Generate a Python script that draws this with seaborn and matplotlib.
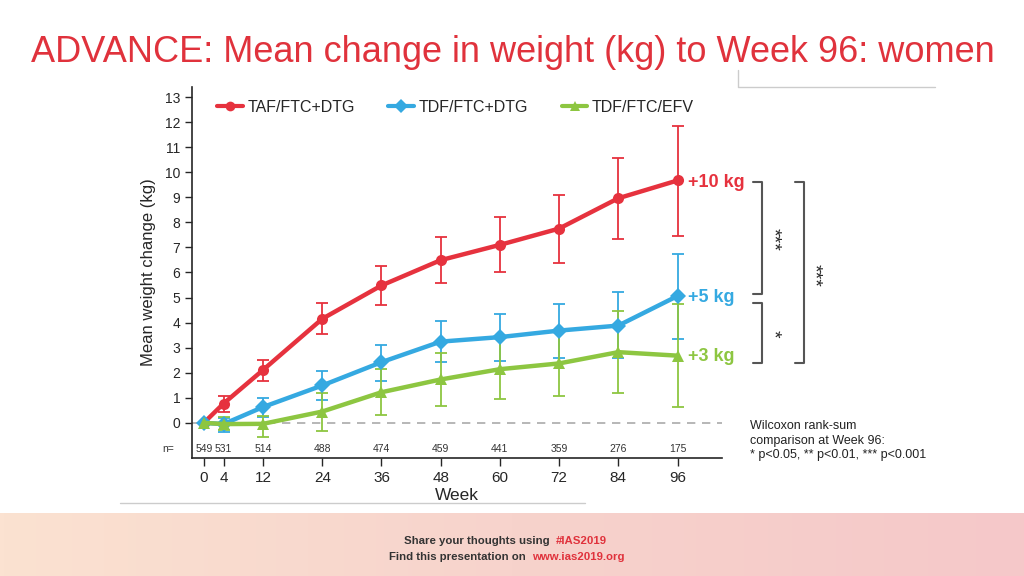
import numpy as np
import pandas as pd
import matplotlib
matplotlib.use('Agg')
import matplotlib.pyplot as plt
import seaborn as sns
from matplotlib.lines import Line2D
from matplotlib.colors import LinearSegmentedColormap

# データ
weeks = [0, 4, 12, 24, 36, 48, 60, 72, 84, 96]
n_at_risk = [549, 531, 514, 488, 474, 459, 441, 359, 276, 175]
regimens = ['TAF/FTC+DTG', 'TDF/FTC+DTG', 'TDF/FTC/EFV']

taf_mean = [0, 0.77, 2.11, 4.15, 5.48, 6.49, 7.10, 7.75, 8.96, 9.67]
taf_low = [0, 0.44, 1.67, 3.53, 4.70, 5.56, 6.02, 6.39, 7.34, 7.47]
taf_high = [0, 1.08, 2.51, 4.78, 6.26, 7.40, 8.21, 9.09, 10.58, 11.86]

tdf_mean = [0, -0.05, 0.63, 1.49, 2.42, 3.24, 3.42, 3.68, 3.88, 5.06]
tdf_low = [0, -0.35, 0.23, 0.92, 1.67, 2.42, 2.48, 2.59, 2.60, 3.36]
tdf_high = [0, 0.21, 0.98, 2.07, 3.10, 4.05, 4.33, 4.73, 5.20, 6.74]

efv_mean = [0, -0.05, -0.04, 0.45, 1.22, 1.73, 2.14, 2.37, 2.82, 2.68]
efv_low = [0, -0.30, -0.58, -0.32, 0.33, 0.68, 0.96, 1.08, 1.21, 0.63]
efv_high = [0, 0.25, 0.27, 1.21, 2.13, 2.78, 3.40, 3.62, 4.47, 4.75]

end_labels = ['+10 kg', '+5 kg', '+3 kg']

colors = ['#E6323E', '#35A9E1', '#8DC641']
markers = ['o', 'D', '^']

means = [taf_mean, tdf_mean, efv_mean]
lows = [taf_low, tdf_low, efv_low]
highs = [taf_high, tdf_high, efv_high]

df = pd.DataFrame({
    'week': weeks * 3,
    'change': taf_mean + tdf_mean + efv_mean,
    'regimen': [r for r in regimens for _ in weeks],
})

sns.set_style('ticks')
plt.rcParams['font.family'] = ['Liberation Sans', 'DejaVu Sans']

fig = plt.figure(figsize=(10.24, 5.76), dpi=100)

# 下部のフッター帯
fax = fig.add_axes([0, 0, 1, 63 / 576])
cmap = LinearSegmentedColormap.from_list('band', ['#FBE2D1', '#F7D3CC', '#F5C8C9'])
fax.imshow(np.linspace(0, 1, 256)[None, :], aspect='auto', cmap=cmap, extent=[0, 1, 0, 1])
fax.set_axis_off()

ax = fig.add_axes([0.1875, 0.205, 0.5175, 0.644])

# エラーバー
for m, lo, hi, c in zip(means, lows, highs, colors):
    m = np.array(m)
    err = [m - np.array(lo), np.array(hi) - m]
    ax.errorbar(weeks, m, yerr=err, fmt='none', ecolor=c, elinewidth=1.3,
                capsize=4, capthick=1.3, zorder=2)

sns.lineplot(data=df, x='week', y='change', hue='regimen', style='regimen',
             palette=dict(zip(regimens, colors)), markers=dict(zip(regimens, markers)),
             dashes=False, linewidth=3.2, markersize=8, markeredgewidth=0,
             errorbar=None, legend=False, ax=ax, zorder=3)

ax.axhline(0, color='#AAAAAA', ls=(0, (5, 4)), lw=1.2, zorder=1)

ax.set_xlim(-2.4, 105)
ax.set_ylim(-1.4, 13.4)
ax.set_xticks(weeks)
ax.set_yticks(range(0, 14))
ax.tick_params(axis='y', labelsize=10, length=5, width=1)
ax.tick_params(axis='x', labelsize=11, length=6, width=1)
ax.set_xlabel('Week', fontsize=12.5, labelpad=2)
ax.set_ylabel('Mean weight change (kg)', fontsize=12, labelpad=6)
sns.despine(ax=ax)
ax.spines['left'].set_linewidth(1.2)
ax.spines['bottom'].set_linewidth(1.2)

# 人数
for w, n in zip(weeks, n_at_risk):
    ax.text(w, -1.05, str(n), ha='center', va='center', fontsize=7.5, color='#333333')
ax.text(-0.045, -1.05, 'n=', transform=ax.get_yaxis_transform(), ha='center',
        va='center', fontsize=7.5, color='#333333')

# 凡例
handles = [Line2D([], [], color=c, marker=mk, lw=3, markersize=7, markeredgewidth=0)
           for c, mk in zip(colors, markers)]
ax.legend(handles, regimens, loc='center left', bbox_to_anchor=(0.02, 0.946), ncol=3,
          frameon=False, fontsize=11.5, handlelength=1.6, handletextpad=0.3,
          columnspacing=2.1)

# 右端のラベル
for lab, yv, c in zip(end_labels, [9.6, 5.0, 2.63], colors):
    ax.text(98.2, yv, lab, color=c, fontsize=13, fontweight='bold', ha='left',
            va='center', clip_on=False)

# 有意差の括弧
br = '#555555'
ax.plot([111.2, 113.2, 113.2, 111.2], [9.6, 9.6, 5.14, 5.14], color=br, lw=1.5, clip_on=False)
ax.plot([111.2, 113.2, 113.2, 111.2], [4.78, 4.78, 2.4, 2.4], color=br, lw=1.5, clip_on=False)
ax.plot([119.8, 121.7, 121.7, 119.8], [9.6, 9.6, 2.4, 2.4], color=br, lw=1.5, clip_on=False)
ax.text(115.2, 7.3, '***', rotation=270, ha='center', va='center', fontsize=14, clip_on=False)
ax.text(115.2, 3.55, '*', rotation=270, ha='center', va='center', fontsize=14, clip_on=False)
ax.text(123.6, 5.9, '***', rotation=270, ha='center', va='center', fontsize=14, clip_on=False)

fig.text(750 / 1024, 1 - 420 / 576,
         'Wilcoxon rank-sum\ncomparison at Week 96:\n* p<0.05, ** p<0.01, *** p<0.001',
         ha='left', va='top', fontsize=9, color='#222222', linespacing=1.3)

# タイトル
fig.text(513 / 1024, 1 - 62 / 576, 'ADVANCE: Mean change in weight (kg) to Week 96: women',
         ha='center', va='baseline', fontsize=26, color='#E0323C')

# 装飾線
fig.add_artist(Line2D([738 / 1024, 738 / 1024, 935 / 1024],
                      [1 - 70 / 576, 1 - 87 / 576, 1 - 87 / 576], color='#CCCCCC', lw=1))
fig.add_artist(Line2D([120 / 1024, 585 / 1024], [1 - 503 / 576] * 2, color='#CCCCCC', lw=1))

# フッターの文字
dark = '#333333'
red = '#E0323C'
fig.text(553 / 1024, 1 - 541 / 576, 'Share your thoughts using ', ha='right', va='center',
         fontsize=8.2, fontweight='bold', color=dark)
fig.text(556 / 1024, 1 - 541 / 576, '#IAS2019', ha='left', va='center',
         fontsize=8.2, fontweight='bold', color=red)
fig.text(529 / 1024, 1 - 556.5 / 576, 'Find this presentation on ', ha='right', va='center',
         fontsize=8.2, fontweight='bold', color=dark)
fig.text(532 / 1024, 1 - 556.5 / 576, 'www.ias2019.org', ha='left', va='center',
         fontsize=8.2, fontweight='bold', color=red)

plt.savefig('out.png', dpi=100)
